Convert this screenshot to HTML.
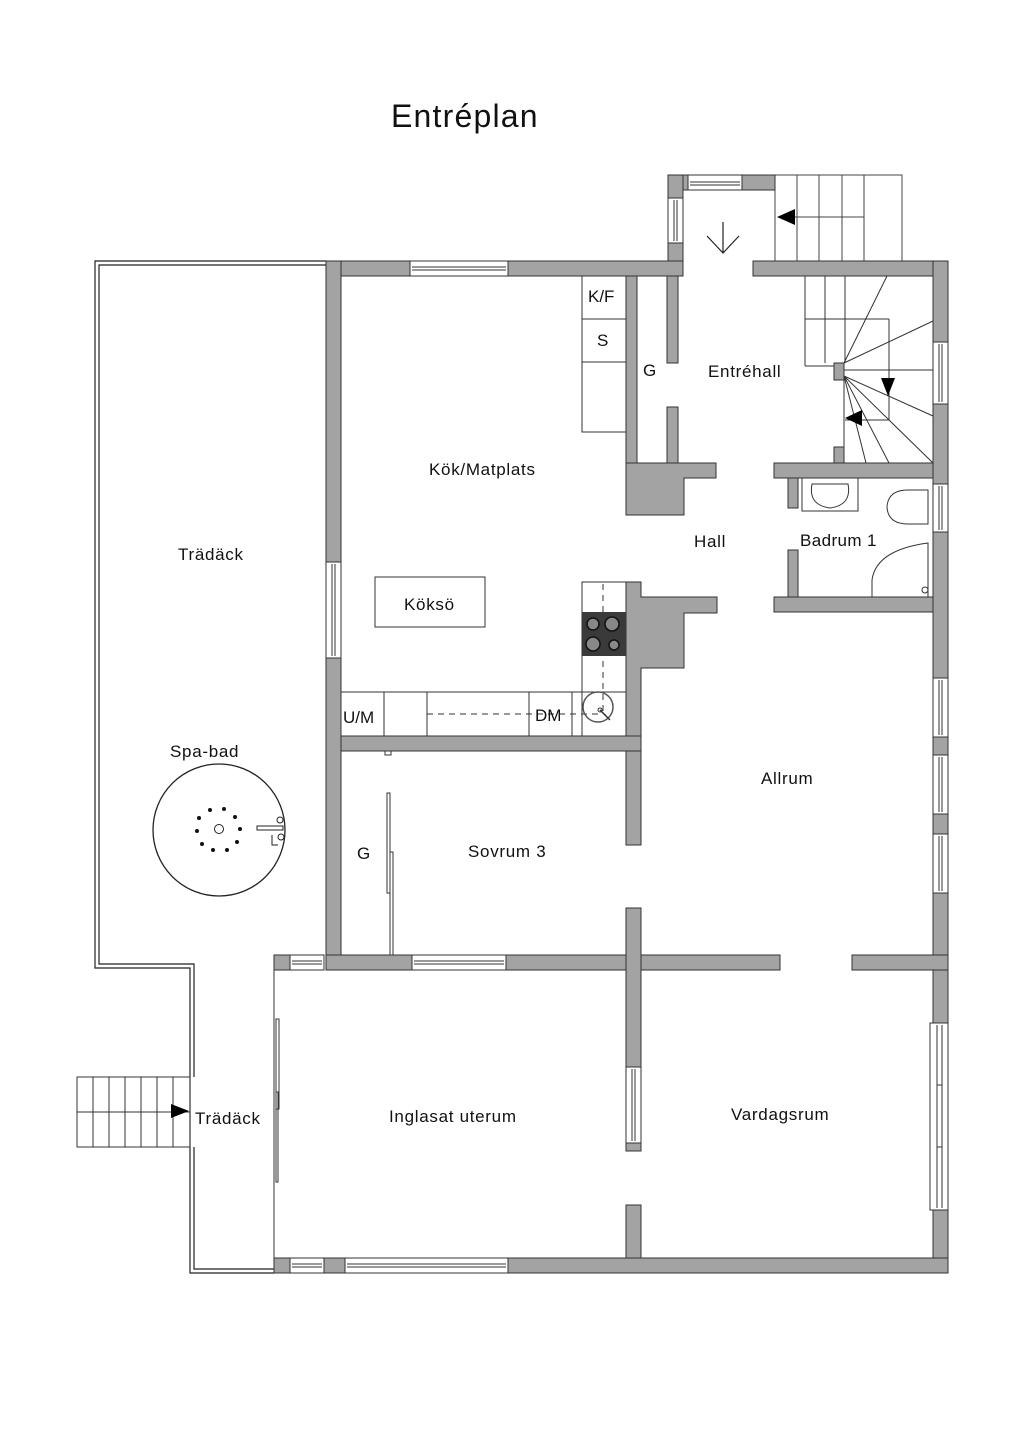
<!DOCTYPE html>
<html><head><meta charset="utf-8"><style>
html,body{margin:0;padding:0;background:#fff}
svg{display:block}
text{font-family:"Liberation Sans","DejaVu Sans",sans-serif;fill:#111}
</style></head><body>
<svg width="1024" height="1448" viewBox="0 0 1024 1448" xmlns="http://www.w3.org/2000/svg">
<text x="391" y="127" font-size="32" letter-spacing="1.2">Entréplan</text>

<!-- Deck outline (double line) -->
<g fill="none" stroke="#222" stroke-width="1.2">
<polyline points="326,261 95,261 95,968 190,968 190,1273 274,1273"/>
<polyline points="326,265 99,265 99,964 194,964 194,1077"/>
<polyline points="194,1147 194,1269 274,1269"/>
</g>
<!-- Deck stairs -->
<g fill="none" stroke="#333" stroke-width="1">
<rect x="77" y="1077" width="113" height="70"/>
<line x1="77" y1="1112" x2="190" y2="1112"/>
<line x1="93" y1="1077" x2="93" y2="1147"/><line x1="109" y1="1077" x2="109" y2="1147"/>
<line x1="125" y1="1077" x2="125" y2="1147"/><line x1="141" y1="1077" x2="141" y2="1147"/>
<line x1="157" y1="1077" x2="157" y2="1147"/><line x1="173" y1="1077" x2="173" y2="1147"/>
</g>
<polygon points="171,1104 189,1111 171,1118" fill="#000"/>

<!-- Spa -->
<circle cx="219" cy="830" r="66" fill="none" stroke="#222" stroke-width="1.3"/>
<circle cx="219" cy="829" r="4.5" fill="none" stroke="#222"/>
<g fill="#111">
<circle cx="210" cy="810" r="2"/><circle cx="224" cy="809" r="2"/><circle cx="235" cy="817" r="2"/>
<circle cx="240" cy="829" r="2"/><circle cx="237" cy="842" r="2"/><circle cx="227" cy="850" r="2"/>
<circle cx="213" cy="850" r="2"/><circle cx="202" cy="844" r="2"/><circle cx="197" cy="831" r="2"/>
<circle cx="199" cy="818" r="2"/>
</g>
<rect x="257" y="826" width="26" height="4" fill="none" stroke="#222"/>
<circle cx="280" cy="820" r="3" fill="none" stroke="#222"/>
<circle cx="281" cy="837" r="3" fill="none" stroke="#222"/>
<path d="M272,835 l0,10 l6,0" fill="none" stroke="#222"/>

<!-- Entry vestibule stairs -->
<g fill="none" stroke="#444" stroke-width="1">
<rect x="775" y="175" width="127" height="86"/>
<line x1="797" y1="175" x2="797" y2="261"/><line x1="819" y1="175" x2="819" y2="261"/>
<line x1="842" y1="175" x2="842" y2="261"/><line x1="864" y1="175" x2="864" y2="261"/>
<line x1="778" y1="217" x2="864" y2="217"/>
</g>
<polygon points="777,217 795,209 795,225" fill="#000"/>
<!-- door arrow -->
<path d="M723,222 L723,253 M707,236 L723,253 L739,236" fill="none" stroke="#222" stroke-width="1.2"/>

<!-- Interior stairs -->
<g fill="none" stroke="#333" stroke-width="1">
<line x1="805" y1="276" x2="805" y2="366"/><line x1="825" y1="276" x2="825" y2="363"/>
<line x1="845" y1="276" x2="845" y2="363"/>
<line x1="805" y1="319" x2="889" y2="319"/><line x1="889" y1="319" x2="889" y2="420"/>
<line x1="845" y1="420" x2="889" y2="420"/>
<line x1="805" y1="366" x2="835" y2="366"/>
<line x1="844" y1="363" x2="887" y2="276"/>
<line x1="844" y1="363" x2="933" y2="321"/>
<line x1="844" y1="370" x2="933" y2="370"/>
<line x1="844" y1="376" x2="933" y2="416"/>
<line x1="844" y1="376" x2="933" y2="463"/>
<line x1="844" y1="376" x2="889" y2="463"/>
<line x1="844" y1="376" x2="866" y2="463"/>
<line x1="844" y1="380" x2="844" y2="447"/>
</g>
<polygon points="881,378 895,378 888,396" fill="#000"/>
<polygon points="845,418 862,410 862,426" fill="#000"/>

<!-- Walls -->
<g fill="#a3a3a3" stroke="#333" stroke-width="1">
<rect x="668" y="175" width="15" height="101"/>
<rect x="683" y="175" width="92" height="15"/>
<rect x="326" y="261" width="357" height="15"/>
<rect x="753" y="261" width="195" height="15"/>
<rect x="326" y="261" width="15" height="709"/>
<rect x="933" y="261" width="15" height="1012"/>
<rect x="274" y="1258" width="674" height="15"/>
<rect x="274" y="955" width="16" height="15"/>
<rect x="326" y="955" width="454" height="15"/>
<rect x="852" y="955" width="96" height="15"/>
<rect x="626" y="276" width="11" height="187"/>
<rect x="667" y="276" width="11" height="87"/>
<rect x="667" y="407" width="11" height="56"/>
<path d="M626,463 L716,463 L716,478 L684,478 L684,515 L626,515 Z"/>
<rect x="774" y="463" width="159" height="15"/>
<rect x="834" y="363" width="10" height="17"/>
<rect x="834" y="447" width="10" height="16"/>
<rect x="788" y="478" width="10" height="30"/>
<rect x="788" y="550" width="10" height="47"/>
<rect x="774" y="597" width="159" height="15"/>
<path d="M626,582 L641,582 L641,597 L717,597 L717,613 L684,613 L684,668 L641,668 L641,736 L626,736 Z"/>
<rect x="341" y="736" width="300" height="15"/>
<rect x="626" y="751" width="15" height="94"/>
<rect x="626" y="908" width="15" height="243"/>
<rect x="626" y="1205" width="15" height="53"/>
<rect x="274" y="1258" width="16" height="15"/>
<rect x="324" y="1258" width="21" height="15"/>
</g>

<!-- Windows -->
<g fill="#fff" stroke="#333" stroke-width="1">
<rect x="688" y="175" width="54" height="15"/><line x1="690" y1="182" x2="740" y2="182"/><line x1="690" y1="185" x2="740" y2="185"/>
<rect x="668" y="198" width="15" height="45"/><line x1="674" y1="200" x2="674" y2="241"/><line x1="677" y1="200" x2="677" y2="241"/>
<rect x="410" y="261" width="98" height="15"/><line x1="412" y1="267" x2="506" y2="267"/><line x1="412" y1="270" x2="506" y2="270"/>
<rect x="326" y="562" width="15" height="96"/><line x1="332" y1="564" x2="332" y2="656"/><line x1="335" y1="564" x2="335" y2="656"/>
<rect x="412" y="955" width="94" height="15"/><line x1="414" y1="961" x2="504" y2="961"/><line x1="414" y1="964" x2="504" y2="964"/>
<rect x="290" y="955" width="34" height="15"/><line x1="292" y1="961" x2="322" y2="961"/><line x1="292" y1="964" x2="322" y2="964"/>
<rect x="290" y="1258" width="34" height="15"/><line x1="292" y1="1264" x2="322" y2="1264"/><line x1="292" y1="1267" x2="322" y2="1267"/>
<rect x="345" y="1258" width="163" height="15"/><line x1="347" y1="1264" x2="506" y2="1264"/><line x1="347" y1="1267" x2="506" y2="1267"/>
<rect x="626" y="1067" width="15" height="76"/><line x1="632" y1="1069" x2="632" y2="1141"/><line x1="635" y1="1069" x2="635" y2="1141"/>
<rect x="933" y="342" width="15" height="62"/><line x1="939" y1="344" x2="939" y2="402"/><line x1="942" y1="344" x2="942" y2="402"/>
<rect x="933" y="484" width="15" height="48"/><line x1="939" y1="486" x2="939" y2="530"/><line x1="942" y1="486" x2="942" y2="530"/>
<rect x="933" y="678" width="15" height="59"/><line x1="939" y1="680" x2="939" y2="735"/><line x1="942" y1="680" x2="942" y2="735"/>
<rect x="933" y="755" width="15" height="59"/><line x1="939" y1="757" x2="939" y2="812"/><line x1="942" y1="757" x2="942" y2="812"/>
<rect x="933" y="834" width="15" height="59"/><line x1="939" y1="836" x2="939" y2="891"/><line x1="942" y1="836" x2="942" y2="891"/>
<rect x="930" y="1023" width="18" height="187"/><line x1="937" y1="1025" x2="937" y2="1208"/><line x1="942" y1="1025" x2="942" y2="1208"/>
<line x1="937" y1="1085" x2="942" y2="1085"/><line x1="937" y1="1147" x2="942" y2="1147"/>
</g>

<g fill="none" stroke="#333" stroke-width="1">
<line x1="274" y1="970" x2="274" y2="1258"/>
<rect x="276" y="1019" width="3" height="90"/>
<rect x="276" y="1092" width="2" height="90"/>
<rect x="387" y="793" width="3" height="100"/>
<rect x="390" y="852" width="3" height="103"/>
<rect x="385" y="751" width="6" height="4"/>
</g>

<!-- Kitchen counters -->
<g fill="none" stroke="#333" stroke-width="1">
<rect x="582" y="276" width="44" height="43"/>
<rect x="582" y="319" width="44" height="43"/>
<rect x="582" y="362" width="44" height="70"/>
<rect x="582" y="582" width="44" height="154"/>
<rect x="341" y="692" width="285" height="44"/>
<line x1="384" y1="692" x2="384" y2="736"/><line x1="427" y1="692" x2="427" y2="736"/>
<line x1="529" y1="692" x2="529" y2="736"/><line x1="572" y1="692" x2="572" y2="736"/>
<line x1="582" y1="692" x2="582" y2="582"/>
<line x1="427" y1="714" x2="604" y2="714" stroke-dasharray="6,5"/>
<line x1="603" y1="584" x2="603" y2="714" stroke-dasharray="6,5"/>
<rect x="375" y="577" width="110" height="50"/>
</g>
<rect x="582" y="612" width="44" height="44" fill="#3a3a3a"/>
<g fill="#888" stroke="#111" stroke-width="1.5">
<circle cx="593" cy="624" r="6"/><circle cx="612" cy="624" r="7"/>
<circle cx="593" cy="644" r="7"/><circle cx="614" cy="645" r="5"/>
</g>
<circle cx="598" cy="707" r="15" fill="none" stroke="#555" stroke-width="1.5"/>
<line x1="600" y1="710" x2="610" y2="720" stroke="#333" stroke-width="1.5"/>
<circle cx="600" cy="710" r="2" fill="none" stroke="#333"/>

<!-- Bath fixtures -->
<g fill="none" stroke="#333" stroke-width="1">
<rect x="802" y="478" width="56" height="33"/>
<path d="M812,484 L848,484 Q852,505 830,508 Q808,505 812,484 Z"/>
<path d="M928,490 L908,490 Q888,490 887,507 Q888,524 908,524 L928,524 Z"/>
<path d="M872,597 L872,580 Q876,550 928,543 L928,597 Z"/>
<circle cx="925" cy="590" r="3"/>
</g>

<!-- Labels -->
<g font-size="17" letter-spacing="0.7">
<text x="588" y="302" letter-spacing="0">K/F</text>
<text x="597" y="346">S</text>
<text x="643" y="376">G</text>
<text x="708" y="377">Entréhall</text>
<text x="429" y="475">Kök/Matplats</text>
<text x="178" y="560">Trädäck</text>
<text x="694" y="547">Hall</text>
<text x="800" y="546" letter-spacing="0.4">Badrum 1</text>
<text x="404" y="610">Köksö</text>
<text x="343" y="723" letter-spacing="0">U/M</text>
<text x="535" y="721" letter-spacing="0">DM</text>
<text x="170" y="757">Spa-bad</text>
<text x="761" y="784">Allrum</text>
<text x="357" y="859">G</text>
<text x="468" y="857">Sovrum 3</text>
<text x="195" y="1124">Trädäck</text>
<text x="389" y="1122">Inglasat uterum</text>
<text x="731" y="1120">Vardagsrum</text>
</g>
</svg>
</body></html>
